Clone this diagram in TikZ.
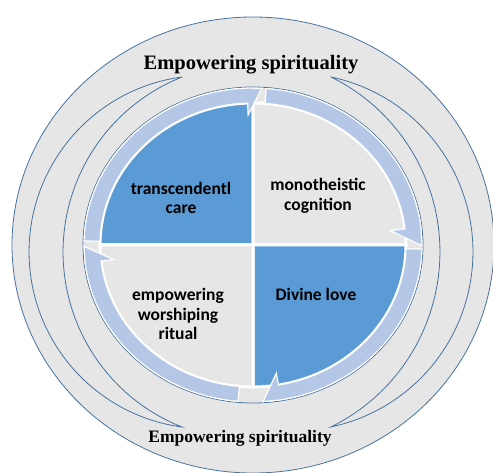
\documentclass[tikz,border=0pt]{standalone}
\usepackage{fontspec}
\setmainfont{Liberation Serif}
\newfontfamily\calibri{Carlito}
\usepackage{tikz}

\definecolor{bggray}{RGB}{230,230,230}
\definecolor{quadblue}{RGB}{91,155,213}
\definecolor{ringblue}{RGB}{180,199,231}
\definecolor{edgeblue}{RGB}{70,114,160}

\begin{document}
\begin{tikzpicture}[x=1pt, y=1pt,
    backshape/.style={fill=bggray, draw=edgeblue, line width=0.8},
    quadrant/.style={draw=white, line width=3},
    ringarrow/.style={fill=ringblue, draw=white, line width=1.2},
    quadlabel/.style={font=\calibri\bfseries\fontsize{17.5}{19.5}\selectfont, align=center},
    titlelabel/.style={font=\bfseries\fontsize{#1}{#1}\selectfont}]
    \useasboundingbox (0,0) rectangle (493,472);
    \clip (0,0) rectangle (493,472);
    % Outer ring and side crescents
    \draw[backshape] (253,227) ellipse [x radius=241, y radius=228];
    \draw[backshape] (182,395) arc[start angle=97.7, end angle=262.3, radius=176.6]
        arc[start angle=248.4, end angle=111.6, radius=188.2] -- cycle;
    \draw[backshape] (331,395) arc[start angle=78.1, end angle=-78.1, radius=178.8]
        arc[start angle=-63.8, end angle=63.8, radius=195] -- cycle;
    \node (top) [titlelabel=20.5] at (251,407) {Empowering spirituality};
    \node (bottom) [titlelabel=17.5] at (240,34) {Empowering spirituality};
    \begin{scope}[shift={(253,227)}]
        % Cycle
        \draw[backshape] (0,0) ellipse [x radius=170, y radius=158];
        \filldraw[quadrant, fill=quadblue] (0,0) -- (180:153 and 142) arc[start angle=180, end angle=90, x radius=153, y radius=142] -- cycle;
        \filldraw[quadrant, fill=bggray] (0,0) -- (90:153 and 142) arc[start angle=90, end angle=0, x radius=153, y radius=142] -- cycle;
        \filldraw[quadrant, fill=quadblue] (0,0) -- (0:153 and 142) arc[start angle=0, end angle=-90, x radius=153, y radius=142] -- cycle;
        \filldraw[quadrant, fill=bggray] (0,0) -- (270:153 and 142) arc[start angle=270, end angle=180, x radius=153, y radius=142] -- cycle;
        % Arrows
        \filldraw[ringarrow] (178.5:169 and 157) arc[start angle=178.5, end angle=92, x radius=169, y radius=157]
            -- (87:169 and 157) -- (92:140 and 130) -- (92:153 and 142)
            arc[start angle=92, end angle=178.5, x radius=153, y radius=142] -- cycle;
        \filldraw[ringarrow] (85.5:169 and 157) arc[start angle=85.5, end angle=6.5, x radius=169, y radius=157]
            -- (-0.3:169 and 157) -- (6.5:138 and 128) -- (6.5:153 and 142)
            arc[start angle=6.5, end angle=85.5, x radius=153, y radius=142] -- cycle;
        \filldraw[ringarrow] (-1.5:169 and 157) arc[start angle=-1.5, end angle=-80.4, x radius=169, y radius=157]
            -- (-86.6:169 and 157) -- (-80.4:140 and 130) -- (-80.4:153 and 142)
            arc[start angle=-80.4, end angle=-1.5, x radius=153, y radius=142] -- cycle;
        \filldraw[ringarrow] (264.9:169 and 157) arc[start angle=264.9, end angle=186.5, x radius=169, y radius=157]
            -- (180.5:169 and 157) -- (186.5:140 and 130) -- (186.5:153 and 142)
            arc[start angle=186.5, end angle=264.9, x radius=153, y radius=142] -- cycle;
    \end{scope}
    % Nodes
    \node (care) [quadlabel] at (181,274) {transcendentl\\care};
    \node (cognition) [quadlabel] at (318,276) {monotheistic\\cognition};
    \node (ritual) [quadlabel] at (178,158) {empowering\\worshiping\\ritual};
    \node (love) [quadlabel] at (316,178) {Divine love};
\end{tikzpicture}
\end{document}
